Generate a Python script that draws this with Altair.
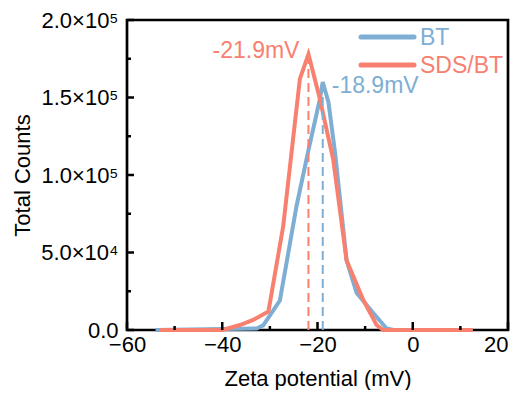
import altair as alt
import pandas as pd

series = ["BT", "SDS/BT"]

bt_mv = [-54.0, -32.8, -31.4, -27.9, -24.4, -21.9, -19.5, -18.9, -17.7, -16.3, -13.9, -11.8, -8.3, -5.5, -4.0, 12.6]
bt_counts = [0, 1000, 3000, 19000, 80000, 116000, 149000, 160000, 147000, 114000, 45000, 24000, 11000, 1000, 0, 0]

sds_mv = [-53.1, -39.9, -36.3, -33.5, -30.3, -27.2, -23.7, -21.9, -19.5, -16.7, -13.9, -10.4, -7.6, -6.2, 12.6]
sds_counts = [0, 0, 3200, 6500, 12000, 67000, 162000, 178000, 149000, 110000, 45000, 19500, 3200, 0, 0]

peak_mv = [-18.9, -21.9]
peak_counts = [160000, 178000]
peak_labels = ["-18.9mV", "-21.9mV"]

x_major = [-60, -40, -20, 0, 20]
x_minor = [-50, -30, -10, 10]
y_major = [0, 50000, 100000, 150000, 200000]
y_minor = [25000, 75000, 125000, 175000]
y_labels = ["0.0", "5.0×10⁴", "1.0×10⁵", "1.5×10⁵", "2.0×10⁵"]

# ---- styling ----
colors = ["#7EAED3", "#F8806F"]
W, H = 381, 310
FONT = "Liberation Sans"
FS = 22

df_lines = pd.concat([
    pd.DataFrame({"mv": bt_mv, "counts": bt_counts, "series": series[0]}),
    pd.DataFrame({"mv": sds_mv, "counts": sds_counts, "series": series[1]}),
])
df_peak = pd.DataFrame({"mv": peak_mv, "counts": peak_counts, "label": peak_labels, "series": series})

xs = alt.Scale(domain=[-60, 20], nice=False)
ys = alt.Scale(domain=[0, 200000], nice=False)
cs = alt.Scale(domain=series, range=colors)

label_expr = "".join(f"datum.value == {v} ? '{l}' : " for v, l in zip(y_major, y_labels)) + "''"

x_axis = alt.Axis(values=x_major, ticks=False, tickSize=0, domain=False, grid=False,
                  labelFlush=False,
                  labelAlign={"expr": f"datum.value == {x_major[-1]} ? 'right' : 'center'"},
                  labelPadding=4, title="Zeta potential (mV)", titlePadding=13)
y_axis = alt.Axis(values=y_major, ticks=False, tickSize=0, domain=False, grid=False,
                  labelFlush=False, labelExpr=label_expr, labelPadding=9,
                  title="Total Counts", titlePadding=6)

def X(f="mv"):
    return alt.X(f"{f}:Q", scale=xs, axis=x_axis)

def Y(f="counts"):
    return alt.Y(f"{f}:Q", scale=ys, axis=y_axis)

COL = alt.Color("series:N", scale=cs, legend=None)

lines = alt.Chart(df_lines).mark_line(strokeWidth=4).encode(
    x=X(), y=Y(), color=COL, order=alt.Order("series:N"), detail="series:N",
)

dashes = alt.Chart(df_peak).transform_calculate(base="0").mark_rule(
    strokeWidth=2, strokeDash=[9, 5]
).encode(x=X(), y=Y("base"), y2="counts:Q", color=COL)

ann_bt = alt.Chart(df_peak).transform_filter(alt.datum.series == series[0]).mark_text(
    align="left", baseline="middle", dx=9, dy=4, font=FONT, fontSize=23
).encode(x=X(), y=Y(), text="label:N", color=COL)

ann_sds = alt.Chart(df_peak).transform_filter(alt.datum.series == series[1]).mark_text(
    align="right", baseline="middle", dx=-9, dy=-3, font=FONT, fontSize=23
).encode(x=X(), y=Y(), text="label:N", color=COL)

# inward ticks
xt_major = alt.Chart(pd.DataFrame({"mv": x_major})).mark_rule(strokeWidth=2.5, color="black").encode(
    x=X(), y=alt.value(H), y2=alt.value(H - 8))
xt_minor = alt.Chart(pd.DataFrame({"mv": x_minor})).mark_rule(strokeWidth=2.5, color="black").encode(
    x=X(), y=alt.value(H), y2=alt.value(H - 4))
yt_major = alt.Chart(pd.DataFrame({"counts": y_major})).mark_rule(strokeWidth=2.5, color="black").encode(
    y=Y(), x=alt.value(0), x2=alt.value(7))
yt_minor = alt.Chart(pd.DataFrame({"counts": y_minor})).mark_rule(strokeWidth=2.5, color="black").encode(
    y=Y(), x=alt.value(0), x2=alt.value(4))

# manual legend
legend_layers = []
for i, name in enumerate(series):
    one = alt.Chart(pd.DataFrame({"name": [name]}))
    legend_layers.append(one.mark_rule(strokeWidth=5, color=colors[i], strokeCap="round").encode(
        x=alt.value(234), x2=alt.value(287), y=alt.value(17 + 28 * i)))
    legend_layers.append(one.mark_text(align="left", baseline="middle", font=FONT, fontSize=23,
                                       color=colors[i]).encode(
        x=alt.value(293), y=alt.value(18 + 28 * i), text="name:N"))

chart = alt.layer(
    lines, dashes, ann_bt, ann_sds, xt_major, xt_minor, yt_major, yt_minor, *legend_layers
).properties(
    width=W, height=H,
    padding={"left": 119, "top": 12, "right": 4, "bottom": 60},
    autosize=alt.AutoSizeParams(type="none"),
).configure_view(
    stroke="black", strokeWidth=2.7
).configure_axis(
    labelFont=FONT, labelFontSize=FS, labelColor="black",
    titleFont=FONT, titleFontSize=FS, titleColor="black", titleFontWeight="normal",
)

chart.save("out.html", embed_options={"renderer": "svg", "actions": False})
